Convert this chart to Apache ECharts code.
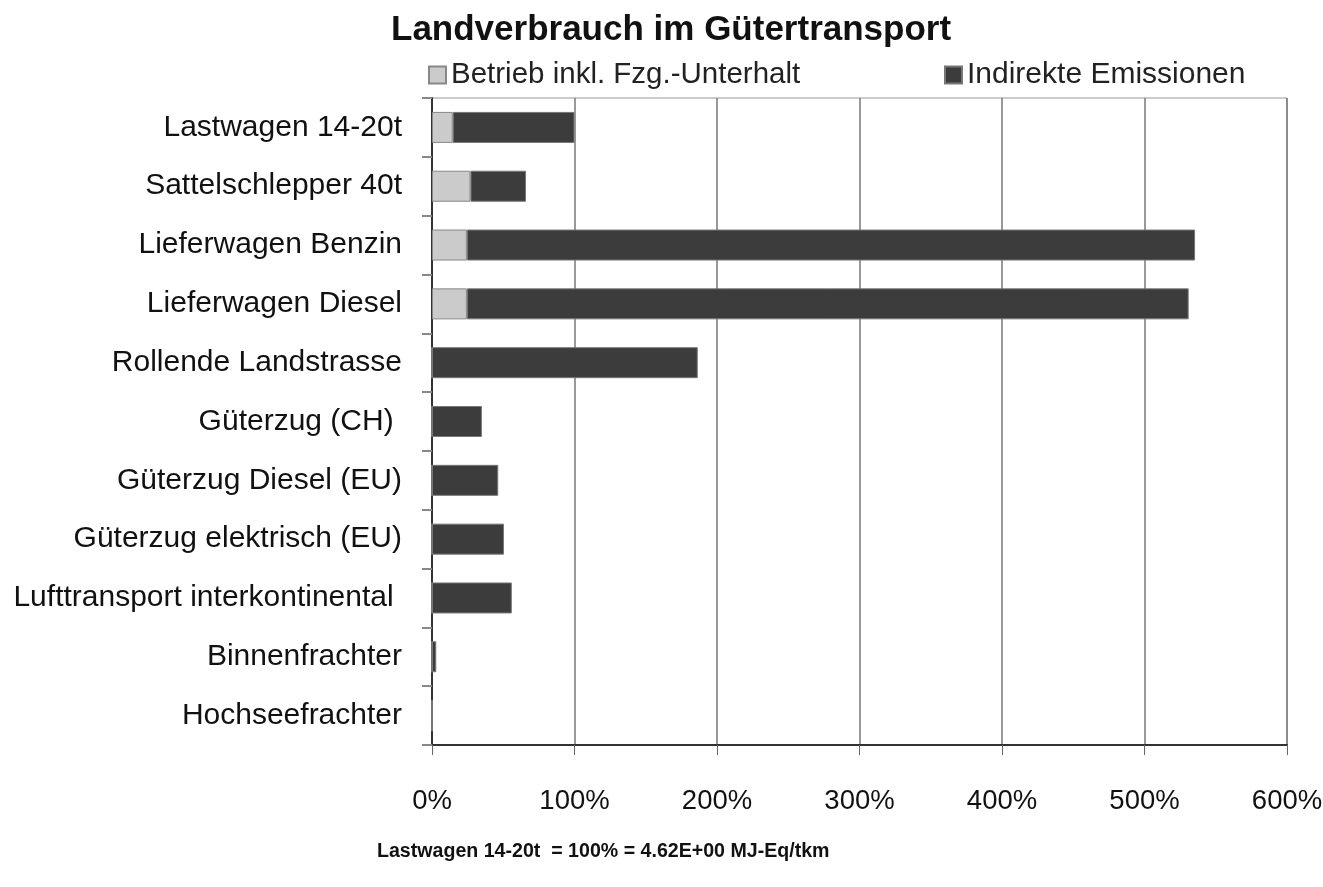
<!DOCTYPE html>
<html>
<head>
<meta charset="utf-8">
<script src="https://cdn.jsdelivr.net/npm/echarts@6/dist/echarts.min.js"></script>
<style>
  html, body { margin: 0; padding: 0; background: #fff; }
  #chart { width: 1323px; height: 887px; }
</style>
</head>
<body>
<div id="chart"></div>
<script>
// Kategorien von oben nach unten
const categories = [
  'Lastwagen 14-20t',
  'Sattelschlepper 40t',
  'Lieferwagen Benzin',
  'Lieferwagen Diesel',
  'Rollende Landstrasse',
  'Güterzug (CH) ',
  'Güterzug Diesel (EU)',
  'Güterzug elektrisch (EU)',
  'Lufttransport interkontinental ',
  'Binnenfrachter',
  'Hochseefrachter'
]
// Werte in % (Lastwagen 14-20t = 100%)
const betrieb = [14.5, 27, 24.5, 24.5, 0, 0, 0, 0, 0, 0, 0]
const indirekt = [85.5, 39, 511, 506.5, 186.5, 35, 46.5, 50.5, 56, 3, 0]
const xTicks = [0, 100, 200, 300, 400, 500, 600]

const font = 'Liberation Sans, Arial, sans-serif'
const chart = echarts.init(document.getElementById('chart'))
chart.setOption({
  animation: false,
  textStyle: { fontFamily: font },
  title: [
    {
      text: 'Landverbrauch im Gütertransport',
      left: 386,
      top: 8,
      textStyle: { fontSize: 35, fontWeight: 'bold', color: '#111', fontFamily: font }
    },
    {
      text: 'Lastwagen 14-20t  = 100% = 4.62E+00 MJ-Eq/tkm',
      left: 372,
      top: 837,
      textStyle: { fontSize: 19.6, fontWeight: 'bold', color: '#111', fontFamily: font }
    }
  ],
  legend: [
    {
      data: ['Betrieb inkl. Fzg.-Unterhalt'],
      left: 423,
      top: 55,
      itemWidth: 17,
      itemHeight: 17,
      icon: 'rect',
      textStyle: { fontSize: 29.5, color: '#222', fontFamily: font }
    },
    {
      data: ['Indirekte Emissionen'],
      left: 939,
      top: 55,
      itemWidth: 17,
      itemHeight: 17,
      icon: 'rect',
      textStyle: { fontSize: 30, color: '#222', fontFamily: font }
    }
  ],
  grid: {
    left: 432,
    right: 36,
    top: 98,
    bottom: 142,
    outerBoundsMode: 'none',
    show: true,
    borderColor: '#999',
    borderWidth: 1
  },
  xAxis: {
    type: 'value',
    min: 0,
    max: 600,
    interval: 100,
    axisLine: { show: true, lineStyle: { color: '#333', width: 2 } },
    axisTick: { show: true, length: 10, lineStyle: { color: '#666' } },
    splitLine: { show: true, lineStyle: { color: '#777', width: 1.5 } },
    axisLabel: {
      formatter: v => (xTicks.includes(v) ? v + '%' : ''),
      fontSize: 27.5,
      color: '#111',
      margin: 42,
      fontFamily: font
    }
  },
  yAxis: {
    type: 'category',
    data: categories,
    inverse: true,
    axisLine: { show: true, lineStyle: { color: '#333', width: 2 } },
    axisTick: { show: true, length: 10, lineStyle: { color: '#888', width: 2 } },
    axisLabel: { fontSize: 30, color: '#111', margin: 30, fontFamily: font }
  },
  series: [
    {
      name: 'Betrieb inkl. Fzg.-Unterhalt',
      type: 'bar',
      stack: 'total',
      barWidth: 31,
      data: betrieb,
      itemStyle: { color: '#cbcbcb', borderColor: '#888', borderWidth: 1 }
    },
    {
      name: 'Indirekte Emissionen',
      type: 'bar',
      stack: 'total',
      barWidth: 31,
      data: indirekt,
      itemStyle: { color: '#3c3c3c', borderColor: '#777', borderWidth: 1 }
    }
  ]
})
</script>
</body>
</html>
